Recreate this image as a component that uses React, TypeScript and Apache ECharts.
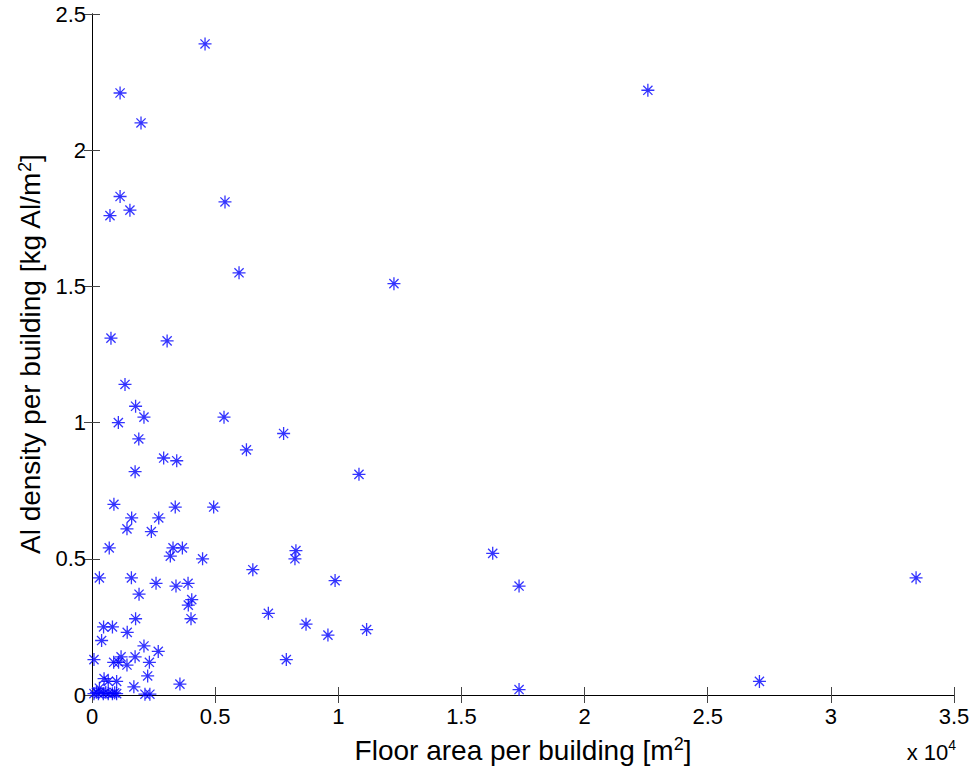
import React, { useEffect, useRef } from "react";
import * as echarts from "echarts";

// Floor area per building [m2] and Al density per building [kg Al/m2]
const floorArea: number[] = [
  4590, 1140, 1990, 22570, 1140, 730, 1540, 5400, 5970, 12260, 770, 3050,
  1340, 1770, 2110, 1070, 5360, 1900, 2910, 3440, 1750, 6270, 7780, 10840,
  890, 1610, 1420, 2710, 3380, 4940, 2410, 700, 3290, 3670, 3180, 4490,
  6530, 8280, 8240, 9870, 16270, 17340, 7160, 8690, 9580, 11150, 7890, 17340,
  33460, 27100, 2600, 3410, 3900, 4050, 3910, 4020, 2690, 3570, 300, 1600,
  1910, 1770, 470, 830, 1430, 390, 2110, 80, 880, 1180, 1080, 1420,
  1750, 2330, 490, 660, 1000, 2260, 1700, 300, 80, 260, 460, 660,
  830, 1000, 2150, 2350, 180, 560, 920,
];
const alDensity: number[] = [
  2.39, 2.21, 2.1, 2.22, 1.83, 1.76, 1.78, 1.81, 1.55, 1.51, 1.31, 1.3,
  1.14, 1.06, 1.02, 1.0, 1.02, 0.94, 0.87, 0.86, 0.82, 0.9, 0.96, 0.81,
  0.7, 0.65, 0.61, 0.65, 0.69, 0.69, 0.6, 0.54, 0.54, 0.54, 0.51, 0.5,
  0.46, 0.53, 0.5, 0.42, 0.52, 0.4, 0.3, 0.26, 0.22, 0.24, 0.13, 0.02,
  0.43, 0.05, 0.41, 0.4, 0.41, 0.35, 0.33, 0.28, 0.16, 0.04, 0.43, 0.43,
  0.37, 0.28, 0.25, 0.25, 0.23, 0.2, 0.18, 0.13, 0.12, 0.14, 0.12, 0.11,
  0.14, 0.12, 0.06, 0.05, 0.05, 0.07, 0.03, 0.025, 0.005, 0.005, 0.005, 0.005,
  0.005, 0.005, 0.003, 0.003, 0.01, 0.01, 0.008,
];

const xTickValues: number[] = [0, 5000, 10000, 15000, 20000, 25000, 30000, 35000];
const yTickValues: number[] = [0, 0.5, 1, 1.5, 2, 2.5];

const FONT = "'Liberation Sans', Arial, Helvetica, sans-serif";
const STAR =
  "path://M0,-10 L0,10 M-10,0 L10,0 M-7.07,-7.07 L7.07,7.07 M-7.07,7.07 L7.07,-7.07";

export default function App() {
  const ref = useRef<HTMLDivElement>(null);
  useEffect(() => {
    document.body.style.margin = "0";
    if (!ref.current) return;
    const chart = echarts.init(ref.current, undefined, { renderer: "svg" });
    const points = floorArea.map((x, i) => [x, alDensity[i]]);
    const tickStyle = { show: true, inside: true, length: 8, lineStyle: { color: "#444", width: 1 } };
    const lineStyle = { show: true, lineStyle: { color: "#000", width: 1 } };
    chart.setOption({
      animation: false,
      backgroundColor: "#fff",
      grid: { left: 92, right: 22, top: 14, bottom: 78, containLabel: false },
      xAxis: [
        {
          type: "value",
          min: xTickValues[0],
          max: xTickValues[xTickValues.length - 1],
          interval: 5000,
          axisLine: lineStyle,
          axisTick: tickStyle,
          splitLine: { show: false },
          axisLabel: {
            show: true,
            margin: 10,
            fontSize: 22,
            fontFamily: FONT,
            color: "#000",
            formatter: (v: number) => String(v / 10000),
          },
          name: "Floor area per building [m{sup|2}]",
          nameLocation: "middle",
          nameGap: 40,
          nameTextStyle: {
            fontSize: 28,
            fontFamily: FONT,
            color: "#000",
            rich: {
              sup: { fontSize: 18, fontFamily: FONT, color: "#000", verticalAlign: "top", padding: [0, 0, 12, 0] },
            },
          },
        },
        {
          type: "value",
          position: "top",
          min: xTickValues[0],
          max: xTickValues[xTickValues.length - 1],
          interval: 5000,
          axisLine: lineStyle,
          axisTick: tickStyle,
          splitLine: { show: false },
          axisLabel: { show: false },
        },
      ],
      yAxis: [
        {
          type: "value",
          min: yTickValues[0],
          max: yTickValues[yTickValues.length - 1],
          interval: 0.5,
          axisLine: lineStyle,
          axisTick: tickStyle,
          splitLine: { show: false },
          axisLabel: { show: true, margin: 6, fontSize: 22, fontFamily: FONT, color: "#000" },
          name: "Al density per building [kg Al/m{sup|2}]",
          nameLocation: "middle",
          nameGap: 37,
          nameTextStyle: {
            fontSize: 28,
            fontFamily: FONT,
            color: "#000",
            rich: {
              sup: { fontSize: 18, fontFamily: FONT, color: "#000", padding: [0, 0, 12, 0] },
            },
          },
        },
        {
          type: "value",
          position: "right",
          min: yTickValues[0],
          max: yTickValues[yTickValues.length - 1],
          interval: 0.5,
          axisLine: lineStyle,
          axisTick: tickStyle,
          splitLine: { show: false },
          axisLabel: { show: false },
        },
      ],
      series: [
        {
          type: "scatter",
          xAxisIndex: 0,
          yAxisIndex: 0,
          data: points,
          symbol: STAR,
          symbolSize: 13,
          itemStyle: { color: "rgba(0,0,255,0)", borderColor: "#0000ff", borderWidth: 1.3 },
          emphasis: { disabled: true },
          clip: false,
        },
      ],
      graphic: [
        {
          type: "text",
          right: 20,
          top: 738,
          style: {
            text: "x 10{sup|4}",
            fontSize: 22,
            fontFamily: FONT,
            fill: "#000",
            rich: {
              sup: { fontSize: 14, fontFamily: FONT, padding: [0, 0, 14, 0] },
            },
          },
        },
      ],
    });
    return () => chart.dispose();
  }, []);
  return <div ref={ref} style={{ width: 976, height: 773 }} />;
}
